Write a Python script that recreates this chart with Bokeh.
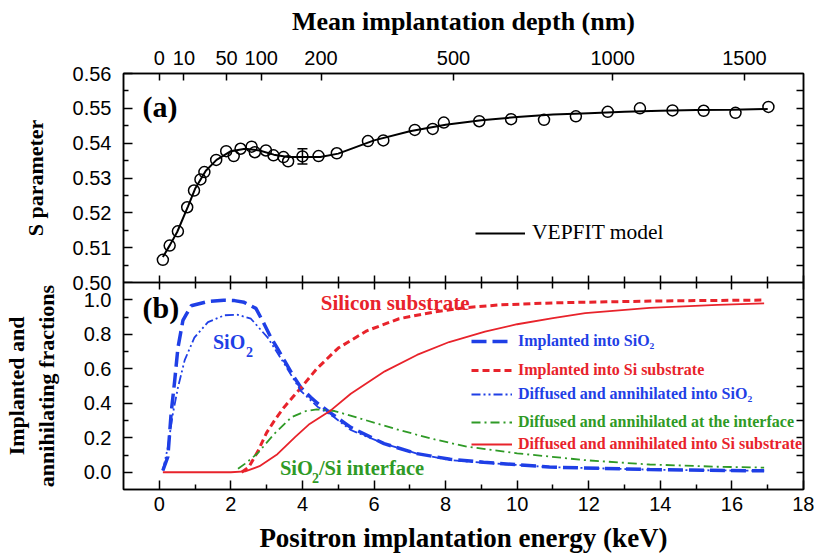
from bokeh.plotting import figure
from bokeh.models import (Range1d, LinearAxis, FixedTicker, NumeralTickFormatter,
                          Legend, LegendItem, Label, Whisker, TeeHead, ColumnDataSource)
from bokeh.layouts import column
from bokeh.embed import file_html
from bokeh.resources import INLINE

# ---------------- data ----------------
# (a) measured S parameter vs positron energy (keV)
s_energy = [0.10, 0.29, 0.52, 0.78, 0.97, 1.15, 1.26, 1.59, 1.87, 2.08, 2.27, 2.58, 2.67,
            2.98, 3.19, 3.47, 3.60, 4.00, 4.45, 4.96, 5.83, 6.26, 7.14, 7.64, 7.95, 8.94,
            9.83, 10.75, 11.64, 12.53, 13.43, 14.34, 15.21, 16.10, 17.02]
s_value = [0.5065, 0.5106, 0.5147, 0.5216, 0.5264, 0.5296, 0.5317, 0.5352, 0.5377, 0.5363,
           0.5384, 0.5390, 0.5374, 0.5379, 0.5365, 0.5360, 0.5348, 0.5362, 0.5363, 0.5371,
           0.5406, 0.5408, 0.5438, 0.5441, 0.5459, 0.5463, 0.5469, 0.5467, 0.5477, 0.5490,
           0.5500, 0.5494, 0.5493, 0.5487, 0.5504]
# VEPFIT model curve
fit_energy = [0.1, 0.3, 0.5, 0.8, 1.0, 1.3, 1.6, 2.0, 2.4, 2.8, 3.2, 3.6, 4.0, 4.5, 5.0,
              6.0, 7.0, 8.0, 9.0, 10.0, 11.0, 12.0, 13.0, 14.0, 15.0, 16.0, 17.0]
fit_value = [0.5073, 0.5108, 0.5145, 0.5218, 0.5269, 0.5321, 0.5352, 0.5377, 0.5384, 0.5379,
             0.5367, 0.5360, 0.5360, 0.5360, 0.5370, 0.5408, 0.5434, 0.5453, 0.5466, 0.5475,
             0.5482, 0.5486, 0.5490, 0.5493, 0.5495, 0.5496, 0.5498]
# representative error bar
err_energy = [4.00]
err_value = [0.5362]
err_half = [0.0022]

# top axis: mean implantation depth
depth_labels = ["0", "10", "50", "100", "200", "500", "1000", "1500"]
depth_energy = [0.0, 0.69, 1.88, 2.85, 4.52, 8.22, 12.67, 16.35]

# (b) fractions
impl_sio2_E = [0.10, 0.24, 0.33, 0.43, 0.52, 0.66, 0.89, 1.36, 1.80, 2.10, 2.37, 2.70, 2.93,
               3.12, 3.31, 3.49, 3.77, 3.96, 4.23, 4.42, 4.79, 5.35, 6.28, 7.20, 8.13, 9.06,
               10.9, 13.7, 16.9]
impl_sio2_f = [0.01, 0.09, 0.34, 0.53, 0.72, 0.88, 0.965, 0.99, 0.997, 0.995, 0.985, 0.95,
               0.86, 0.78, 0.715, 0.65, 0.55, 0.49, 0.435, 0.40, 0.343, 0.26, 0.166, 0.108,
               0.075, 0.058, 0.030, 0.016, 0.008]

impl_si_E = [2.30, 2.50, 2.75, 3.00, 3.25, 3.50, 3.75, 4.00, 4.40, 5.00, 5.80, 6.70, 7.70,
             8.60, 9.50, 11.0, 12.5, 14.0, 15.5, 16.9]
impl_si_f = [0.0, 0.03, 0.12, 0.23, 0.31, 0.38, 0.44, 0.50, 0.60, 0.72, 0.82, 0.89, 0.93,
             0.955, 0.97, 0.982, 0.988, 0.993, 0.996, 0.998]

diff_sio2_E = [0.10, 0.24, 0.38, 0.52, 0.71, 0.98, 1.36, 1.82, 2.19, 2.56, 3.03, 3.49, 3.96,
               4.42, 4.88, 5.35, 6.28, 7.20, 8.13, 9.06, 10.9, 13.7, 16.9]
diff_sio2_f = [0.01, 0.146, 0.34, 0.49, 0.65, 0.78, 0.87, 0.91, 0.913, 0.89, 0.78, 0.63, 0.47,
               0.38, 0.32, 0.245, 0.166, 0.108, 0.07, 0.055, 0.03, 0.015, 0.008]

diff_int_E = [2.20, 2.40, 2.75, 3.20, 3.70, 4.10, 4.40, 4.90, 5.80, 6.70, 7.70, 8.60, 10.0,
              11.9, 13.7, 15.6, 16.9]
diff_int_f = [0.02, 0.05, 0.11, 0.22, 0.32, 0.355, 0.365, 0.355, 0.30, 0.245, 0.19, 0.148,
              0.11, 0.07, 0.045, 0.032, 0.027]

diff_si_E = [0.10, 1.00, 2.00, 2.40, 2.80, 3.30, 3.80, 4.20, 4.80, 5.35, 6.30, 7.20, 8.10,
             9.10, 10.0, 11.0, 11.9, 13.7, 15.6, 16.9]
diff_si_f = [0.0, 0.0, 0.0, 0.005, 0.035, 0.105, 0.205, 0.28, 0.36, 0.455, 0.585, 0.68,
             0.755, 0.815, 0.858, 0.893, 0.922, 0.953, 0.970, 0.979]

# tick values
s_ticks = [0.50, 0.51, 0.52, 0.53, 0.54, 0.55, 0.56]
s_minor = [0.505, 0.515, 0.525, 0.535, 0.545, 0.555]
s_right = [0.505, 0.51, 0.515, 0.52, 0.525, 0.53, 0.535, 0.54, 0.545, 0.55, 0.555]
f_ticks = [0.0, 0.2, 0.4, 0.6, 0.8, 1.0]
f_minor = [0.1, 0.3, 0.5, 0.7, 0.9]
f_right = [0.0, 0.1, 0.2, 0.3, 0.4, 0.5, 0.6, 0.7, 0.8, 0.9, 1.0]
e_ticks = [0, 2, 4, 6, 8, 10, 12, 14, 16, 18]
e_minor = [1, 3, 5, 7, 9, 11, 13, 15, 17]

BLUE = "#1f3fe6"
RED = "#e8232b"
GREEN = "#2f9a26"
SANS = "Liberation Sans"
SERIF = "Liberation Serif"


def make_axis(ticks, minor=(), tin=8, mtin=5, labels=True, fmt=None, overrides=None,
              title=None, standoff=10, title_size="24px", title_standoff=10):
    ax = LinearAxis(ticker=FixedTicker(ticks=list(ticks), minor_ticks=list(minor)),
                    major_tick_in=tin, major_tick_out=0, minor_tick_in=mtin, minor_tick_out=0,
                    axis_line_width=1.5, axis_line_color="black",
                    major_tick_line_width=1.5, minor_tick_line_width=1.5,
                    major_tick_line_color="black", minor_tick_line_color="black")
    if labels:
        ax.major_label_text_font = SANS
        ax.major_label_text_font_size = "20px"
        ax.major_label_text_color = "black"
        ax.major_label_standoff = standoff
        if fmt is not None:
            ax.formatter = NumeralTickFormatter(format=fmt)
        if overrides is not None:
            ax.major_label_overrides = overrides
    else:
        ax.major_label_text_color = None
        ax.major_label_text_font_size = "0px"
        ax.major_label_standoff = 0
    if title is not None:
        ax.axis_label = title
        ax.axis_label_text_font = SERIF
        ax.axis_label_text_font_style = "bold"
        ax.axis_label_text_font_size = title_size
        ax.axis_label_text_color = "black"
        ax.axis_label_standoff = title_standoff
    return ax


xr = Range1d(-1, 18)
OVERLAP = 10

# ---------------- panel (a) ----------------
pa = figure(width=814, height=282 + OVERLAP, x_range=xr, y_range=Range1d(0.50, 0.56),
            x_axis_location=None, y_axis_location=None, output_backend="svg",
            toolbar_location=None, min_border_left=123, min_border_right=11,
            min_border_top=73, min_border_bottom=OVERLAP)
pa.outline_line_color = "black"
pa.outline_line_width = 1.5
pa.grid.visible = False

pa.add_layout(make_axis(s_ticks, s_minor, tin=9, mtin=5, fmt="0.00", title="S parameter",
                        standoff=12, title_size="22px", title_standoff=22), "left")
pa.add_layout(make_axis(s_right, (), tin=7, labels=False), "right")
pa.add_layout(make_axis(depth_energy, (), tin=7,
                        overrides={e: l for e, l in zip(depth_energy, depth_labels)},
                        title="Mean implantation depth (nm)", standoff=9,
                        title_size="26px", title_standoff=12), "above")
pa.add_layout(make_axis(e_ticks, e_minor, tin=7, mtin=6, labels=False), "below")

fit_r = pa.line(fit_energy, fit_value, line_color="black", line_width=2)
pa.scatter(s_energy, s_value, marker="circle", size=11, fill_color=None,
           line_color="black", line_width=1.5)
err_src = ColumnDataSource(dict(
    base=err_energy,
    upper=[v + d for v, d in zip(err_value, err_half)],
    lower=[v - d for v, d in zip(err_value, err_half)]))
pa.add_layout(Whisker(source=err_src, base="base", upper="upper", lower="lower",
                      dimension="height", line_color="black", line_width=1.5,
                      upper_head=TeeHead(size=10, line_width=1.5, line_color="black"),
                      lower_head=TeeHead(size=10, line_width=1.5, line_color="black")))

pa.add_layout(Legend(items=[LegendItem(label="VEPFIT model", renderers=[fit_r])],
                     location=(352, 37), glyph_width=50, glyph_height=22, label_height=22,
                     label_standoff=7, padding=0, spacing=0, margin=0,
                     border_line_color=None, background_fill_alpha=0,
                     label_text_font=SERIF, label_text_font_size="21.5px",
                     label_text_color="black"))
pa.add_layout(Label(x=-0.47, y=0.5504, text="(a)", text_font=SERIF, text_font_style="bold",
                    text_font_size="30px", text_baseline="middle", text_color="black"))

# ---------------- panel (b) ----------------
pb = figure(width=814, height=278, x_range=xr, y_range=Range1d(-0.1, 1.1),
            x_axis_location=None, y_axis_location=None, output_backend="svg",
            toolbar_location=None, min_border_left=123, min_border_right=11,
            min_border_top=0, min_border_bottom=71, margin=(-OVERLAP, 0, 0, 0))
pb.outline_line_color = "black"
pb.outline_line_width = 1.5
pb.border_fill_alpha = 0
pb.grid.visible = False

pb.add_layout(make_axis(f_ticks, f_minor, tin=9, mtin=5, fmt="0.0",
                        title="Implanted and\nannihilating fractions", standoff=12,
                        title_size="22px", title_standoff=22), "left")
pb.add_layout(make_axis(f_right, (), tin=7, labels=False), "right")
pb.add_layout(make_axis(e_ticks, e_minor, tin=7, mtin=6, labels=False), "above")
pb.add_layout(make_axis(e_ticks, e_minor, tin=9, mtin=5,
                        title="Positron implantation energy (keV)", standoff=7,
                        title_size="27px", title_standoff=9), "below")

r1 = pb.line(impl_sio2_E, impl_sio2_f, line_color=BLUE, line_width=3.5, line_dash="15 6")
r2 = pb.line(impl_si_E, impl_si_f, line_color=RED, line_width=3, line_dash="7 4")
r3 = pb.line(diff_sio2_E, diff_sio2_f, line_color=BLUE, line_width=1.8,
             line_dash="9 3 2 3 2 3")
r4 = pb.line(diff_int_E, diff_int_f, line_color=GREEN, line_width=1.8, line_dash="9 4 2 4")
r5 = pb.line(diff_si_E, diff_si_f, line_color=RED, line_width=1.8)

legend_rows = [
    ("Implanted into SiO\u2082", r1, BLUE, 138.8),
    ("Implanted into Si substrate", r2, RED, 110.5),
    ("Diffused and annihilated into SiO\u2082", r3, BLUE, 86.5),
    ("Diffused and annihilated at the interface", r4, GREEN, 58),
    ("Diffused and annihilated into Si substrate", r5, RED, 36.5),
]
for text, rend, col, ypos in legend_rows:
    pb.add_layout(Legend(items=[LegendItem(label=text, renderers=[rend])],
                         location=(348, ypos), glyph_width=41, glyph_height=16,
                         label_height=16, label_standoff=6, padding=0, spacing=0, margin=0,
                         border_line_color=None, background_fill_alpha=0,
                         label_text_font=SERIF, label_text_font_style="bold",
                         label_text_font_size="16px", label_text_color=col))


def blabel(x, y, text, color, size="21px", x_offset=0, y_offset=0):
    pb.add_layout(Label(x=x, y=y, text=text, text_font=SERIF, text_font_style="bold",
                        text_font_size=size, text_baseline="middle", text_color=color,
                        x_offset=x_offset, y_offset=y_offset))


blabel(-0.47, 0.957, "(b)", "black", size="30px")
blabel(4.51, 0.98, "Silicon substrate", RED)
blabel(1.50, 0.757, "SiO", BLUE, size="20px")
blabel(1.50, 0.757, "2", BLUE, size="14px", x_offset=33, y_offset=-10)
blabel(3.37, 0.023, "SiO", GREEN, size="20.5px")
blabel(3.37, 0.023, "2", GREEN, size="14px", x_offset=32, y_offset=-10)
blabel(3.37, 0.023, "/Si interface", GREEN, size="20.5px", x_offset=39)

layout = column(pa, pb, spacing=0)
open("out.html", "w").write(file_html(layout, INLINE))
